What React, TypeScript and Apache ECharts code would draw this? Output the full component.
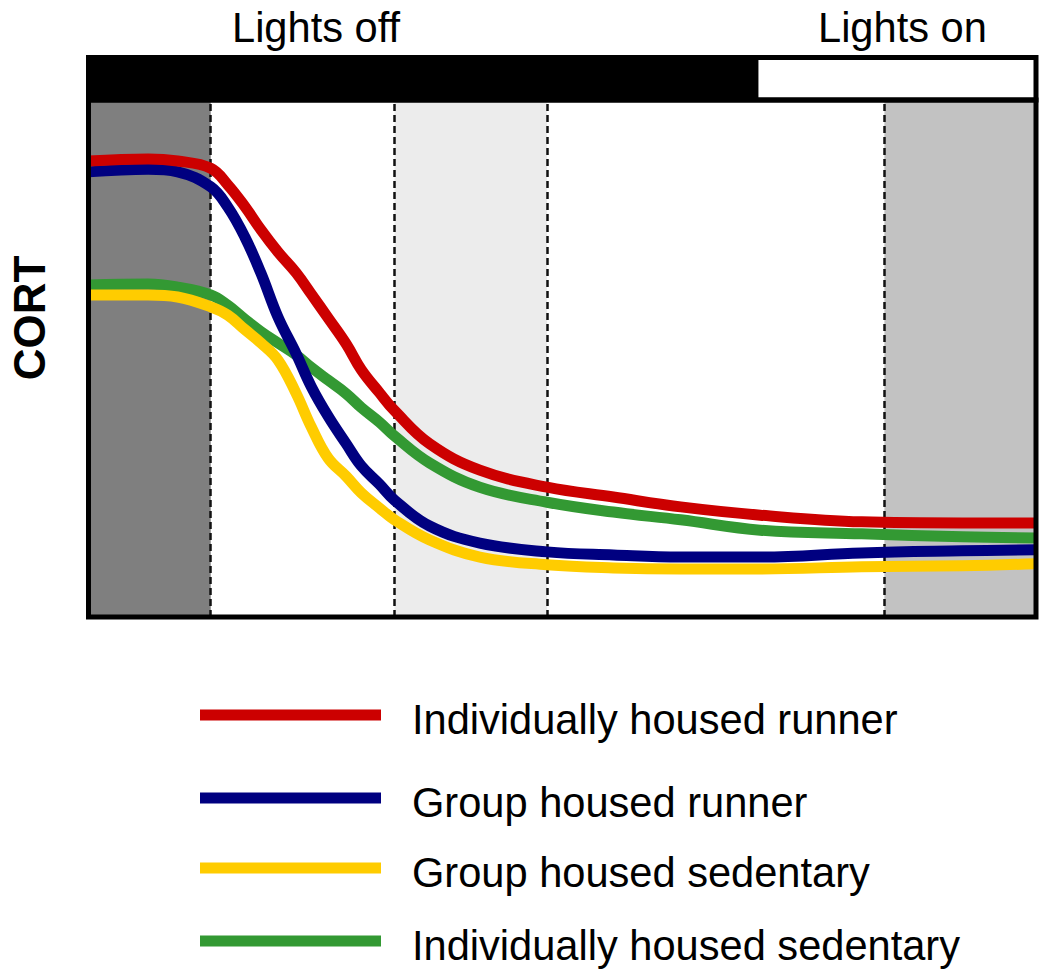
import React, { useEffect, useRef } from "react";
import * as echarts from "echarts";

// time axis (arbitrary units across the recording window, 0 – 100)
const timePoints = [0, 6.3, 9.4, 12.9, 14.7, 16.5, 18.2, 20.0, 21.9, 23.5, 25.3, 27.2, 28.8, 30.7, 32.3, 36.0, 41.3, 48.4, 55.4, 62.5, 70.9, 81.6, 92.2, 100];

// CORT (relative units)
const indivRunner = [88.2, 88.6, 88.2, 86.8, 83.6, 79.4, 74.9, 70.6, 66.6, 62.5, 57.8, 52.8, 47.8, 43.4, 39.9, 33.5, 28.4, 25.1, 23.2, 21.3, 19.7, 18.4, 18.2, 18.2];
const groupRunner = [86.1, 86.6, 86.1, 83.2, 79.3, 73.5, 66.5, 58.0, 51.0, 44.6, 38.8, 33.5, 29.2, 25.7, 22.6, 17.6, 14.3, 12.6, 12.0, 11.6, 11.6, 12.4, 12.8, 13.0];
const groupSedentary = [62.3, 62.3, 61.9, 60.0, 58.4, 55.6, 53.0, 49.7, 43.3, 36.8, 30.7, 27.2, 24.0, 21.1, 18.8, 14.9, 11.6, 10.1, 9.5, 9.3, 9.3, 9.7, 9.9, 10.3];
const indivSedentary = [64.2, 64.4, 63.8, 62.3, 60.3, 57.6, 55.2, 53.0, 50.7, 48.3, 45.8, 43.2, 40.5, 37.7, 35.0, 29.8, 25.1, 22.2, 20.3, 18.8, 16.8, 16.1, 15.5, 15.3];

const seriesNames = ["Individually housed runner", "Group housed runner", "Group housed sedentary", "Individually housed sedentary"];
const seriesValues = [indivRunner, groupRunner, groupSedentary, indivSedentary];
const seriesColors = ["#cc0000", "#000080", "#ffcc00", "#339933"];
// drawing order (first drawn at bottom)
const drawOrder = [3, 2, 1, 0];

// shaded sampling windows (start, end) on the time axis
const bandStarts = [0, 32.3, 84.0];
const bandEnds = [12.9, 48.4, 100];
const bandColors = ["#7f7f7f", "#ececec", "#c2c2c2"];
const dashedLines = [12.9, 32.3, 48.4, 84.0];

// light cycle
const lightsOnAt = 70.6;
const cycleLabels = ["Lights off", "Lights on"];

const FONT = "'Liberation Sans', Arial, Helvetica, sans-serif";

export default function App() {
  const ref = useRef<HTMLDivElement>(null);

  useEffect(() => {
    document.body.style.margin = "0";
    const chart = echarts.init(ref.current!, undefined, { renderer: "svg" });

    const G = { left: 88.5, right: 14, top: 100, bottom: 363 };
    const W = 1050;
    const plotRight = W - G.right;
    const plotBottom = 980 - G.bottom;

    const lineSeries = drawOrder.map((i) => ({
      type: "line",
      name: seriesNames[i],
      xAxisIndex: 0,
      yAxisIndex: 0,
      data: timePoints.map((t, k) => [t, seriesValues[i][k]]),
      smooth: 0.4,
      showSymbol: false,
      symbol: "none",
      lineStyle: { color: seriesColors[i], width: 11, cap: "butt", join: "round" },
      z: 5,
    }));

    const legendYs = [715, 798, 868, 941];
    const legendGraphics: any[] = [];
    seriesNames.forEach((name, i) => {
      legendGraphics.push({
        type: "line",
        shape: { x1: 200, y1: legendYs[i], x2: 381, y2: legendYs[i] },
        style: { stroke: seriesColors[i], lineWidth: 11 },
      });
      legendGraphics.push({
        type: "text",
        x: 412,
        y: legendYs[i] + 4,
        style: { text: name, font: `41.6px ${FONT}`, fill: "#000", textAlign: "left", textVerticalAlign: "middle" },
      });
    });

    const option: any = {
      animation: false,
      backgroundColor: "#ffffff",
      grid: [
        { left: G.left, right: G.right, top: G.top, bottom: G.bottom },
        { left: G.left, right: G.right, top: 57, height: 43 },
      ],
      xAxis: [
        { type: "value", min: 0, max: 100, gridIndex: 0, show: false },
        { type: "value", min: 0, max: 100, gridIndex: 1, show: false },
      ],
      yAxis: [
        { type: "value", min: 0, max: 100, gridIndex: 0, show: false },
        { type: "value", min: 0, max: 1, gridIndex: 1, show: false },
      ],
      series: [
        {
          type: "line",
          name: "bands",
          xAxisIndex: 0,
          yAxisIndex: 0,
          data: [],
          silent: true,
          z: 1,
          markArea: {
            silent: true,
            data: bandStarts.map((s, i) => [
              { xAxis: s, itemStyle: { color: bandColors[i] } },
              { xAxis: bandEnds[i] },
            ]),
          },
          markLine: {
            silent: true,
            symbol: "none",
            label: { show: false },
            lineStyle: { color: "#111", width: 2.5, type: [7, 4] },
            data: dashedLines.map((x) => ({ xAxis: x })),
          },
        },
        {
          type: "line",
          name: "cycle",
          xAxisIndex: 1,
          yAxisIndex: 1,
          data: [],
          silent: true,
          markArea: {
            silent: true,
            data: [
              [{ xAxis: 0, itemStyle: { color: "#000000" } }, { xAxis: lightsOnAt }],
              [{ xAxis: lightsOnAt, itemStyle: { color: "#ffffff", borderColor: "#000", borderWidth: 2 } }, { xAxis: 100 }],
            ],
          },
        },
        ...lineSeries,
      ],
      graphic: [
        {
          type: "rect",
          z: 50,
          shape: { x: G.left, y: G.top, width: plotRight - G.left, height: plotBottom - G.top },
          style: { fill: "none", stroke: "#000", lineWidth: 5 },
        },
        {
          type: "rect",
          z: 50,
          shape: { x: G.left, y: 57.5, width: plotRight - G.left, height: 42.5 },
          style: { fill: "none", stroke: "#000", lineWidth: 5 },
        },
        {
          type: "text",
          x: 232,
          y: 27,
          style: { text: cycleLabels[0], font: `41.6px ${FONT}`, fill: "#000", textAlign: "left", textVerticalAlign: "middle" },
        },
        {
          type: "text",
          x: 818,
          y: 27,
          style: { text: cycleLabels[1], font: `41.6px ${FONT}`, fill: "#000", textAlign: "left", textVerticalAlign: "middle" },
        },
        {
          type: "text",
          x: 29,
          y: 318,
          rotation: Math.PI / 2,
          style: { text: "CORT", font: `bold 44px ${FONT}`, fill: "#000", textAlign: "center", textVerticalAlign: "middle" },
        },
        ...legendGraphics,
      ],
    };

    chart.setOption(option);
    return () => chart.dispose();
  }, []);

  return <div ref={ref} style={{ width: 1050, height: 980 }} />;
}
